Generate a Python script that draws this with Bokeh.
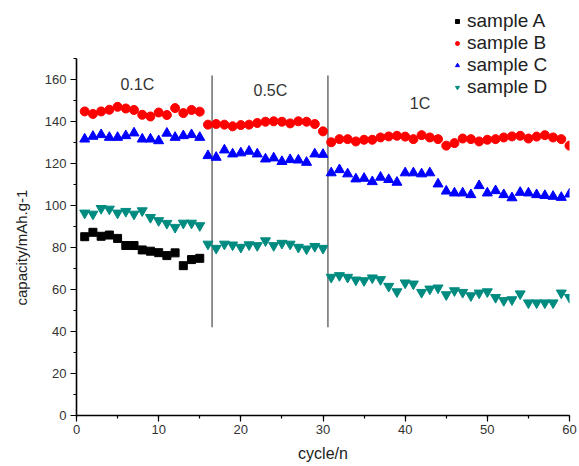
from bokeh.plotting import figure
from bokeh.models import SingleIntervalTicker, Legend, LegendItem, Title
from bokeh.core.properties import value
from bokeh.embed import file_html
from bokeh.resources import INLINE

# ---- data ----
cycles_a = list(range(1, 16))
cycles_all = list(range(1, 61))

sample_a = [85.2, 87.3, 85.4, 86.0, 84.4, 81.0, 81.0, 78.9, 78.3, 77.6, 76.2, 77.5, 71.4, 74.3, 74.9]

sample_b = [144.9, 143.7, 144.9, 145.7, 147.1, 146.3, 145.6, 143.3, 142.5, 144.4, 143.2, 146.5, 144.1, 145.6, 144.8,
            138.6, 138.9, 138.6, 137.8, 138.4, 138.6, 139.4, 140.0, 140.2, 140.0, 139.2, 140.2, 140.0, 138.9, 135.4,
            130.2, 131.7, 131.7, 130.6, 131.4, 131.4, 132.5, 133.0, 133.3, 132.9, 131.7, 133.6, 132.5, 131.7, 128.6,
            129.8, 132.0, 131.7, 130.6, 131.4, 131.7, 132.5, 133.0, 133.3, 132.0, 132.9, 133.6, 132.5, 131.7, 128.6]

sample_c = [131.7, 133.0, 133.8, 132.5, 132.5, 133.3, 134.6, 131.7, 131.7, 130.9, 134.5, 132.5, 133.3, 133.8, 132.5,
            123.8, 123.0, 126.5, 124.6, 125.1, 125.9, 124.6, 122.2, 122.7, 121.0, 121.9, 121.7, 120.6, 124.6, 124.4,
            115.6, 117.1, 115.1, 112.7, 113.0, 111.4, 113.5, 112.4, 111.1, 115.6, 115.6, 115.1, 115.6, 110.3, 106.9,
            106.0, 106.0, 105.2, 109.5, 106.0, 107.1, 105.2, 103.7, 106.3, 106.0, 105.2, 104.8, 104.4, 103.9, 105.5]

sample_d = [96.5, 96.0, 98.7, 98.4, 96.5, 97.3, 96.0, 97.6, 94.4, 92.9, 91.6, 89.7, 91.7, 91.7, 90.5,
            81.7, 79.7, 81.7, 81.3, 80.2, 81.4, 81.0, 83.3, 81.0, 82.1, 81.7, 80.2, 79.4, 80.6, 79.7,
            65.9, 66.7, 65.9, 64.6, 64.3, 65.6, 64.8, 61.6, 59.0, 63.2, 62.7, 58.7, 60.3, 60.8, 57.6,
            59.5, 58.7, 57.1, 58.4, 59.0, 56.3, 54.8, 55.2, 58.0, 53.7, 53.7, 53.7, 53.7, 58.4, 56.3]

rate_bounds = [16.5, 30.6]
rate_bound_low = [42, 42]
rate_bound_high = [162, 162]

rate_labels = ["0.1C", "0.5C", "1C"]
rate_label_x = [7.4, 23.6, 41.8]
rate_label_y = [157.6, 155.0, 148.6]

x_ticks_interval = 10
y_ticks_interval = 20

FONT = "Liberation Sans"

p = figure(width=577, height=466, x_range=(0, 60), y_range=(0, 193),
           output_backend="svg", toolbar_location=None,
           min_border_left=76, min_border_right=8, min_border_top=10, min_border_bottom=51)
p.outline_line_color = None
p.grid.visible = False
p.background_fill_color = "white"
p.border_fill_color = "white"

# axes
p.xaxis.ticker = SingleIntervalTicker(interval=x_ticks_interval, num_minor_ticks=2)
p.yaxis.ticker = SingleIntervalTicker(interval=y_ticks_interval, num_minor_ticks=2)
p.xaxis.bounds = (0, 60)
p.yaxis.bounds = (0, 170)
for ax in (p.xaxis, p.yaxis):
    ax.axis_line_color = "black"
    ax.axis_line_width = 1.6
    ax.major_tick_line_color = "black"
    ax.minor_tick_line_color = "black"
    ax.major_tick_line_width = 1.2
    ax.minor_tick_line_width = 1.2
    ax.major_tick_out = 6
    ax.major_tick_in = 0
    ax.minor_tick_out = 3
    ax.minor_tick_in = 0
    ax.major_label_text_font = FONT
    ax.major_label_text_font_size = "13px"
    ax.major_label_text_color = "#333333"
    ax.axis_label_text_font = FONT
    ax.axis_label_text_font_style = "normal"
    ax.axis_label_text_color = "#222222"
p.xaxis.axis_label = "cycle/n"
p.xaxis.axis_label_text_font_size = "16px"
p.xaxis.major_label_standoff = 3
p.xaxis.axis_label_standoff = 8
p.yaxis.major_label_standoff = 4

# y-axis title placed on the left side, shifted to sit near the axis middle
ytitle = Title(text="capacity/mAh.g-1", align="left", offset=110, vertical_align="top",
               text_font=FONT, text_font_size="15px", text_font_style="normal",
               text_color="#222222", standoff=20)
p.add_layout(ytitle, "left")

# rate boundary lines
p.segment(x0=rate_bounds, y0=rate_bound_low, x1=rate_bounds, y1=rate_bound_high,
          line_color="#555555", line_width=1.3)

# rate labels
p.text(x=rate_label_x, y=rate_label_y, text=rate_labels,
       text_font=value(FONT), text_font_size="16px", text_color="#333333",
       text_align="center", text_baseline="middle")

ra = p.scatter(cycles_a, sample_a, marker="square", size=8, color="black")
rb = p.scatter(cycles_all, sample_b, marker="circle", size=9, color="#ff0000")
rc = p.scatter(cycles_all, sample_c, marker="triangle", size=10, color="#0000ff")
rd = p.scatter(cycles_all, sample_d, marker="inverted_triangle", size=10, color="#008b80")

legend = Legend(items=[
    LegendItem(label="sample A", renderers=[ra]),
    LegendItem(label="sample B", renderers=[rb]),
    LegendItem(label="sample C", renderers=[rc]),
    LegendItem(label="sample D", renderers=[rd]),
], location=(376, 317))
legend.label_text_font = FONT
legend.label_text_font_size = "19px"
legend.label_text_color = "#222222"
legend.border_line_color = None
legend.background_fill_alpha = 0
legend.glyph_width = 10
legend.glyph_height = 22
legend.label_height = 22
legend.spacing = 0
legend.label_standoff = 5
legend.padding = 0
legend.margin = 0
p.add_layout(legend)

open("out.html", "w").write(file_html(p, INLINE))
